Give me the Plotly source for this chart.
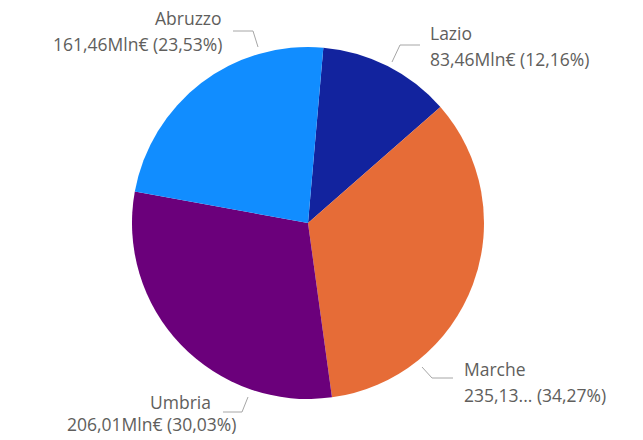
import plotly.graph_objects as go

W, H = 643, 440

regions = ["Lazio", "Marche", "Umbria", "Abruzzo"]
values = [83.456, 235.13, 206.01, 161.46]
colors = ["#12239E", "#E66C37", "#6B007B", "#118DFF"]
truncate_value = [False, True, False, False]

total = sum(values)


def fmt(v, dec=2):
    return f"{v:.{dec}f}".replace(".", ",")


def px(x):
    return x / W


def py(y):
    return 1 - y / H


# pie placement (pixels)
cx, cy, r = 308, 223, 176

fig = go.Figure(
    go.Pie(
        labels=regions,
        values=values,
        sort=False,
        direction="clockwise",
        rotation=5,
        marker=dict(colors=colors, line=dict(width=0)),
        textinfo="none",
        hoverinfo="label+value+percent",
        showlegend=False,
        domain=dict(x=[px(cx - r), px(cx + r)], y=[py(cy + r), py(cy - r)]),
    )
)

# label layout: (line1 x, anchor1, y1, line2 x, anchor2, y2)
label_layout = {
    "Lazio": (428, "left", 33, 428, "left", 59),
    "Marche": (462, "left", 369, 462, "left", 395),
    "Umbria": (213, "right", 402, 238, "right", 424),
    "Abruzzo": (224, "right", 18, 224, "right", 44),
}
# leader polylines (pixels)
leaders = {
    "Lazio": [(392, 62), (400, 45), (420, 45)],
    "Marche": [(422, 367), (432, 378), (453, 378)],
    "Umbria": [(248, 397), (242, 412), (223, 412)],
    "Abruzzo": [(258, 47), (253, 31), (233, 31)],
}

font = dict(family="Segoe UI, Open Sans, sans-serif", size=17.5, color="#605E5C")

annotations = []
shapes = []
for name, v, trunc in zip(regions, values, truncate_value):
    pct = v / total * 100
    vtxt = (fmt(v)[:6] + "...") if trunc else fmt(v) + "Mln€"
    line2 = f"{vtxt} ({fmt(pct)}%)"
    x1, a1, y1, x2, a2, y2 = label_layout[name]
    annotations.append(dict(text=name, x=px(x1), y=py(y1), xref="paper", yref="paper",
                            xanchor=a1, yanchor="middle", showarrow=False, font=font))
    annotations.append(dict(text=line2, x=px(x2), y=py(y2), xref="paper", yref="paper",
                            xanchor=a2, yanchor="middle", showarrow=False, font=font))
    pts = leaders[name]
    path = "M " + " L ".join(f"{px(a)},{py(b)}" for a, b in pts)
    shapes.append(dict(type="path", path=path, xref="paper", yref="paper",
                       line=dict(color="#A6A6A6", width=1)))

fig.update_layout(
    width=W,
    height=H,
    margin=dict(l=0, r=0, t=0, b=0),
    paper_bgcolor="white",
    plot_bgcolor="white",
    annotations=annotations,
    shapes=shapes,
)

fig.write_html(
    "out.html",
    config={"displayModeBar": False},
    post_script="document.body.style.margin='0';document.body.style.overflow='hidden';",
)
